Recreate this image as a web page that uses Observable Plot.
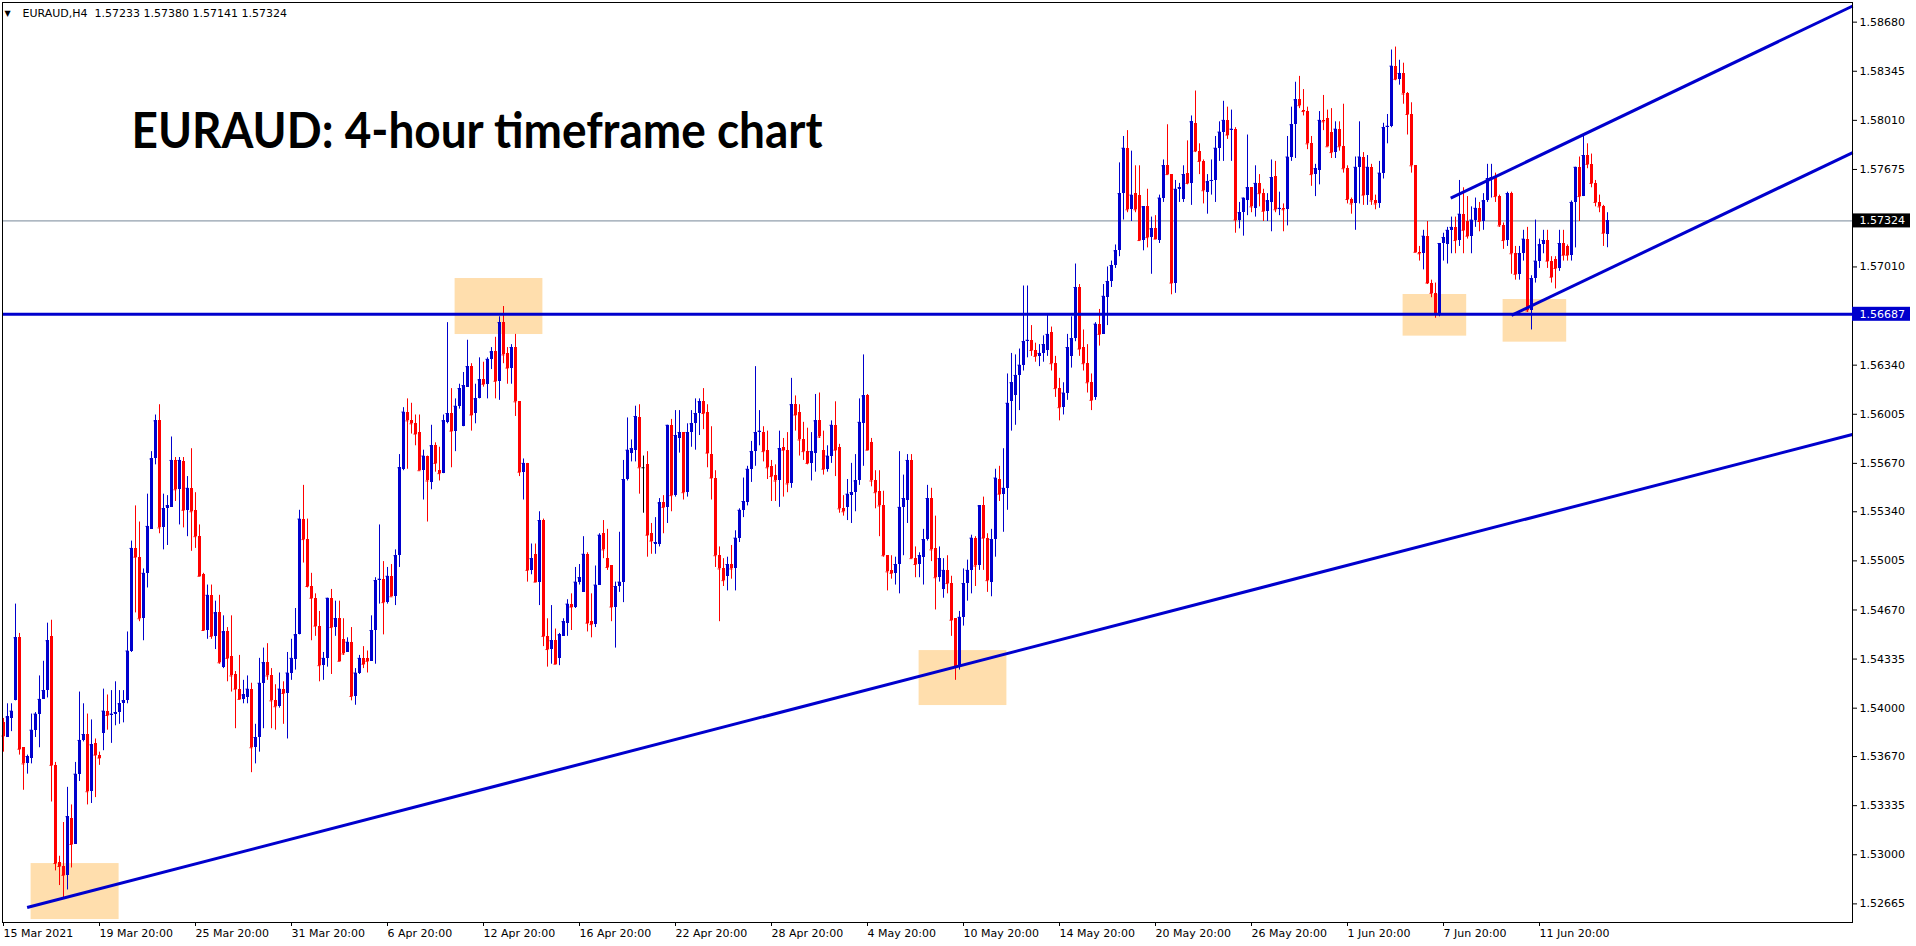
<!DOCTYPE html>
<html><head><meta charset="utf-8">
<script src="https://cdn.jsdelivr.net/npm/d3@7"></script>
<script src="https://cdn.jsdelivr.net/npm/@observablehq/plot@0.6"></script>
<style>
html,body{margin:0;padding:0;background:#fff;}
#chart{width:1916px;height:946px;overflow:hidden;}
#chart svg text{white-space:pre;}
</style></head><body><div id="chart"></div>
<script>
const symbolName = "EURAUD,H4";
const chartTitle = "EURAUD: 4-hour timeframe chart";
const opens = [
1.5390,1.5380,1.5393,1.5405,1.5448,1.5373,1.5362,1.5366,1.5385,1.5396,
1.5406,1.5412,1.5449,1.5361,1.5295,1.5292,1.5286,1.5325,1.5307,1.5355,
1.5378,1.5382,1.5343,1.5376,1.5368,1.5383,1.5398,1.5395,1.5396,1.5397,
1.5403,1.5405,1.5439,1.5509,1.5503,1.5461,1.5492,1.5522,1.5570,1.5596,
1.5523,1.5536,1.5537,1.5569,1.5549,1.5568,1.5535,1.5550,1.5535,1.5517,
1.5491,1.5453,1.5477,1.5449,1.5465,1.5428,1.5452,1.5435,1.5423,1.5413,
1.5406,1.5407,1.5413,1.5373,1.5380,1.5417,1.5431,1.5422,1.5405,1.5401,
1.5413,1.5410,1.5424,1.5433,1.5450,1.5529,1.5515,1.5483,1.5475,1.5456,
1.5429,1.5434,1.5475,1.5455,1.5461,1.5447,1.5438,1.5445,1.5408,1.5424,
1.5434,1.5434,1.5432,1.5453,1.5487,1.5488,1.5472,1.5490,1.5476,1.5504,
1.5563,1.5602,1.5596,1.5594,1.5588,1.5562,1.5572,1.5554,1.5579,1.5562,
1.5560,1.5595,1.5601,1.5589,1.5606,1.5592,1.5619,1.5633,1.5601,1.5611,
1.5624,1.5621,1.5638,1.5643,1.5623,1.5663,1.5642,1.5632,1.5646,1.5609,
1.5561,1.5567,1.5494,1.5505,1.5486,1.5528,1.5449,1.5440,1.5446,1.5434,
1.5449,1.5458,1.5471,1.5469,1.5486,1.5479,1.5505,1.5459,1.5457,1.5484,
1.5519,1.5502,1.5497,1.5469,1.5483,1.5486,1.5556,1.5574,1.5576,1.5598,
1.5564,1.5566,1.5519,1.5512,1.5512,1.5540,1.5537,1.5593,1.5545,1.5584,
1.5588,1.5547,1.5588,1.5594,1.5601,1.5609,1.5602,1.5573,1.5557,1.5504,
1.5495,1.5490,1.5498,1.5495,1.5516,1.5535,1.5540,1.5563,1.5575,1.5588,
1.5588,1.5576,1.5565,1.5559,1.5555,1.5578,1.5576,1.5553,1.5607,1.5602,
1.5583,1.5575,1.5567,1.5574,1.5596,1.5576,1.5563,1.5572,1.5593,1.5578,
1.5536,1.5537,1.5545,1.5547,1.5555,1.5594,1.5613,1.5581,1.5555,1.5548,
1.5538,1.5504,1.5494,1.5492,1.5498,1.5537,1.5542,1.5569,1.5502,1.5498,
1.5503,1.5515,1.5543,1.5509,1.5489,1.5481,1.5494,1.5485,1.5461,1.5428,
1.5462,1.5485,1.5494,1.5516,1.5497,1.5538,1.5516,1.5486,1.5515,1.5556,
1.5546,1.5550,1.5609,1.5613,1.5627,1.5634,1.5650,1.5651,1.5644,1.5640,
1.5642,1.5644,1.5656,1.5635,1.5618,1.5605,1.5615,1.5640,1.5652,1.5687,
1.5646,1.5635,1.5622,1.5612,1.5662,1.5655,1.5680,1.5691,1.5702,1.5712,
1.5751,1.5782,1.5740,1.5751,1.5750,1.5719,1.5742,1.5721,1.5727,1.5719,
1.5748,1.5770,1.5764,1.5690,1.5754,1.5747,1.5765,1.5758,1.5799,1.5780,
1.5773,1.5752,1.5759,1.5760,1.5782,1.5793,1.5801,1.5794,1.5795,1.5733,
1.5738,1.5746,1.5755,1.5741,1.5758,1.5751,1.5739,1.5745,1.5763,1.5740,
1.5741,1.5740,1.5776,1.5798,1.5815,1.5808,1.5807,1.5785,1.5764,1.5767,
1.5801,1.5802,1.5793,1.5779,1.5795,1.5783,1.5768,1.5747,1.5744,1.5769,
1.5776,1.5750,1.5769,1.5746,1.5744,1.5765,1.5796,1.5797,1.5838,1.5829,
1.5833,1.5819,1.5805,1.5770,1.5711,1.5710,1.5722,1.5690,1.5683,1.5669,
1.5717,1.5716,1.5726,1.5728,1.5719,1.5737,1.5732,1.5722,1.5733,1.5741,
1.5732,1.5746,1.5761,1.5762,1.5749,1.5729,1.5719,1.5751,1.5710,1.5696,
1.5710,1.5720,1.5671,1.5693,1.5705,1.5716,1.5719,1.5705,1.5706,1.5700,
1.5717,1.5715,1.5709,1.5745,1.5769,1.5749,1.5777,1.5771,1.5758,1.5745,
1.5742,1.57233];
const highs = [
1.5393,1.5403,1.5403,1.5471,1.5451,1.5373,1.5368,1.5396,1.5397,1.5422,
1.5432,1.5458,1.5460,1.5363,1.5299,1.5322,1.5346,1.5334,1.5363,1.5411,
1.5403,1.5396,1.5392,1.5379,1.5370,1.5413,1.5409,1.5412,1.5418,1.5412,
1.5412,1.5452,1.5514,1.5538,1.5527,1.5495,1.5546,1.5575,1.5600,1.5607,
1.5546,1.5545,1.5585,1.5571,1.5571,1.5571,1.5558,1.5577,1.5547,1.5525,
1.5492,1.5484,1.5484,1.5473,1.5477,1.5463,1.5455,1.5463,1.5425,1.5436,
1.5419,1.5422,1.5417,1.5389,1.5434,1.5441,1.5444,1.5427,1.5416,1.5424,
1.5418,1.5438,1.5447,1.5468,1.5535,1.5552,1.5529,1.5492,1.5478,1.5466,
1.5438,1.5475,1.5481,1.5473,1.5473,1.5461,1.5448,1.5455,1.5427,1.5436,
1.5442,1.5439,1.5463,1.5489,1.5525,1.5500,1.5496,1.5498,1.5508,1.5573,
1.5605,1.5611,1.5608,1.5600,1.5600,1.5576,1.5572,1.5593,1.5581,1.5578,
1.5600,1.5663,1.5618,1.5611,1.5621,1.5629,1.5651,1.5635,1.5621,1.5639,
1.5636,1.5639,1.5646,1.5653,1.5667,1.5674,1.5646,1.5648,1.5655,1.5609,
1.5570,1.5567,1.5512,1.5512,1.5534,1.5529,1.5461,1.5470,1.5454,1.5451,
1.5461,1.5474,1.5478,1.5496,1.5498,1.5517,1.5506,1.5478,1.5497,1.5519,
1.5528,1.5522,1.5497,1.5486,1.5520,1.5569,1.5598,1.5583,1.5606,1.5607,
1.5572,1.5575,1.5526,1.5530,1.5543,1.5545,1.5593,1.5597,1.5603,1.5603,
1.5588,1.5594,1.5603,1.5611,1.5611,1.5618,1.5607,1.5592,1.5562,1.5510,
1.5502,1.5503,1.5511,1.5521,1.5536,1.5557,1.5565,1.5582,1.5633,1.5603,
1.5592,1.5589,1.5569,1.5566,1.5589,1.5584,1.5588,1.5625,1.5613,1.5607,
1.5595,1.5591,1.5588,1.5614,1.5615,1.5589,1.5579,1.5596,1.5609,1.5580,
1.5545,1.5556,1.5567,1.5573,1.5611,1.5641,1.5614,1.5584,1.5562,1.5562,
1.5548,1.5504,1.5504,1.5503,1.5575,1.5559,1.5573,1.5573,1.5510,1.5506,
1.5522,1.5552,1.5550,1.5531,1.5510,1.5502,1.5504,1.5490,1.5461,1.5466,
1.5495,1.5501,1.5518,1.5517,1.5538,1.5544,1.5519,1.5522,1.5563,1.5565,
1.5577,1.5628,1.5642,1.5641,1.5645,1.5688,1.5688,1.5661,1.5649,1.5648,
1.5654,1.5669,1.5660,1.5640,1.5625,1.5622,1.5655,1.5667,1.5703,1.5689,
1.5658,1.5648,1.5628,1.5663,1.5672,1.5689,1.5701,1.5705,1.5716,1.5772,
1.5790,1.5794,1.5780,1.5770,1.5770,1.5742,1.5754,1.5735,1.5736,1.5750,
1.5774,1.5798,1.5764,1.5760,1.5758,1.5770,1.5787,1.5804,1.5821,1.5785,
1.5774,1.5764,1.5774,1.5790,1.5800,1.5814,1.5810,1.5808,1.5796,1.5745,
1.5748,1.5791,1.5755,1.5770,1.5764,1.5754,1.5751,1.5774,1.5773,1.5752,
1.5744,1.5790,1.5810,1.5827,1.5831,1.5822,1.5810,1.5790,1.5771,1.5807,
1.5818,1.5808,1.5809,1.5800,1.5800,1.5812,1.5770,1.5748,1.5776,1.5800,
1.5779,1.5777,1.5771,1.5750,1.5773,1.5799,1.5805,1.5849,1.5851,1.5842,
1.5840,1.5820,1.5813,1.5770,1.5715,1.5726,1.5732,1.5692,1.5690,1.5717,
1.5724,1.5728,1.5735,1.5735,1.5760,1.5755,1.5749,1.5742,1.5748,1.5745,
1.5751,1.5771,1.5771,1.5765,1.5750,1.5731,1.5752,1.5752,1.5715,1.5715,
1.5726,1.5728,1.5695,1.5733,1.5720,1.5726,1.5726,1.5708,1.5708,1.5726,
1.5726,1.5716,1.5746,1.5769,1.5776,1.5790,1.5785,1.5778,1.5760,1.5750,
1.5743,1.57380];
const lows = [
1.5370,1.5380,1.5384,1.5405,1.5368,1.5344,1.5355,1.5362,1.5380,1.5373,
1.5406,1.5407,1.5336,1.5289,1.5279,1.5270,1.5276,1.5291,1.5307,1.5350,
1.5377,1.5334,1.5335,1.5339,1.5361,1.5371,1.5385,1.5376,1.5388,1.5389,
1.5390,1.5403,1.5438,1.5465,1.5459,1.5446,1.5482,1.5522,1.5566,1.5519,
1.5508,1.5511,1.5537,1.5541,1.5525,1.5523,1.5517,1.5507,1.5509,1.5490,
1.5453,1.5447,1.5447,1.5440,1.5430,1.5427,1.5418,1.5411,1.5386,1.5406,
1.5403,1.5403,1.5356,1.5362,1.5370,1.5386,1.5419,1.5386,1.5385,1.5400,
1.5389,1.5379,1.5419,1.5426,1.5450,1.5499,1.5482,1.5446,1.5449,1.5418,
1.5419,1.5428,1.5423,1.5449,1.5432,1.5436,1.5438,1.5405,1.5402,1.5423,
1.5427,1.5424,1.5432,1.5430,1.5471,1.5450,1.5471,1.5476,1.5470,1.5496,
1.5562,1.5563,1.5587,1.5579,1.5562,1.5542,1.5527,1.5549,1.5561,1.5555,
1.5560,1.5594,1.5564,1.5575,1.5604,1.5592,1.5619,1.5589,1.5594,1.5611,
1.5619,1.5611,1.5631,1.5611,1.5610,1.5635,1.5621,1.5621,1.5599,1.5558,
1.5542,1.5486,1.5491,1.5486,1.5470,1.5442,1.5428,1.5430,1.5430,1.5429,
1.5449,1.5449,1.5453,1.5468,1.5484,1.5479,1.5452,1.5448,1.5455,1.5484,
1.5502,1.5494,1.5459,1.5441,1.5479,1.5472,1.5555,1.5568,1.5568,1.5546,
1.5533,1.5503,1.5505,1.5505,1.5510,1.5519,1.5526,1.5534,1.5544,1.5574,
1.5542,1.5544,1.5578,1.5576,1.5586,1.5590,1.5564,1.5542,1.5496,1.5459,
1.5483,1.5480,1.5488,1.5480,1.5513,1.5530,1.5538,1.5554,1.5565,1.5579,
1.5568,1.5556,1.5541,1.5541,1.5537,1.5544,1.5547,1.5550,1.5589,1.5572,
1.5569,1.5566,1.5555,1.5561,1.5584,1.5559,1.5561,1.5567,1.5558,1.5533,
1.5531,1.5528,1.5526,1.5534,1.5552,1.5565,1.5576,1.5551,1.5536,1.5517,
1.5503,1.5480,1.5488,1.5484,1.5478,1.5504,1.5526,1.5502,1.5489,1.5489,
1.5484,1.5514,1.5500,1.5467,1.5486,1.5475,1.5478,1.5449,1.5419,1.5426,
1.5456,1.5473,1.5478,1.5483,1.5494,1.5494,1.5479,1.5476,1.5503,1.5541,
1.5520,1.5535,1.5589,1.5593,1.5603,1.5630,1.5639,1.5640,1.5636,1.5633,
1.5636,1.5640,1.5630,1.5612,1.5596,1.5600,1.5610,1.5632,1.5650,1.5640,
1.5630,1.5615,1.5603,1.5610,1.5647,1.5655,1.5661,1.5687,1.5700,1.5708,
1.5733,1.5738,1.5732,1.5738,1.5719,1.5712,1.5714,1.5696,1.5720,1.5717,
1.5745,1.5764,1.5682,1.5683,1.5745,1.5745,1.5757,1.5743,1.5779,1.5764,
1.5744,1.5737,1.5750,1.5745,1.5773,1.5773,1.5788,1.5773,1.5724,1.5727,
1.5722,1.5736,1.5738,1.5735,1.5742,1.5732,1.5732,1.5725,1.5738,1.5736,
1.5725,1.5729,1.5773,1.5775,1.5809,1.5804,1.5781,1.5756,1.5749,1.5757,
1.5794,1.5783,1.5775,1.5775,1.5780,1.5765,1.5744,1.5737,1.5726,1.5744,
1.5743,1.5743,1.5743,1.5740,1.5741,1.5761,1.5785,1.5796,1.5828,1.5825,
1.5812,1.5791,1.5765,1.5711,1.5705,1.5699,1.5689,1.5680,1.5666,1.5667,
1.5705,1.5703,1.5710,1.5710,1.5715,1.5710,1.5720,1.5710,1.5728,1.5725,
1.5726,1.5745,1.5748,1.5745,1.5728,1.5713,1.5715,1.5696,1.5692,1.5692,
1.5705,1.5670,1.5658,1.5690,1.5700,1.5710,1.5700,1.5690,1.5686,1.5698,
1.5705,1.5705,1.5705,1.5714,1.5732,1.5749,1.5768,1.5755,1.5742,1.5738,
1.5715,1.57141];
const closes = [
1.5381,1.5394,1.5398,1.5448,1.5372,1.5362,1.5367,1.5385,1.5396,1.5406,
1.5412,1.5446,1.5361,1.5294,1.5292,1.5286,1.5326,1.5307,1.5355,1.5378,
1.5382,1.5343,1.5375,1.5368,1.5366,1.5398,1.5395,1.5396,1.5397,1.5403,
1.5405,1.5439,1.5509,1.5503,1.5461,1.5492,1.5524,1.5570,1.5596,1.5523,
1.5536,1.5538,1.5569,1.5549,1.5569,1.5535,1.5550,1.5534,1.5517,1.5490,
1.5453,1.5477,1.5449,1.5465,1.5431,1.5452,1.5434,1.5422,1.5413,1.5406,
1.5409,1.5413,1.5373,1.5380,1.5417,1.5431,1.5422,1.5405,1.5401,1.5413,
1.5410,1.5424,1.5434,1.5450,1.5529,1.5515,1.5483,1.5475,1.5456,1.5429,
1.5434,1.5475,1.5455,1.5461,1.5432,1.5437,1.5445,1.5408,1.5424,1.5434,
1.5430,1.5432,1.5453,1.5487,1.5488,1.5472,1.5490,1.5476,1.5504,1.5564,
1.5602,1.5596,1.5594,1.5587,1.5562,1.5572,1.5555,1.5579,1.5567,1.5560,
1.5596,1.5601,1.5589,1.5606,1.5618,1.5620,1.5633,1.5600,1.5611,1.5624,
1.5621,1.5638,1.5643,1.5623,1.5663,1.5641,1.5632,1.5646,1.5609,1.5561,
1.5567,1.5494,1.5502,1.5486,1.5528,1.5449,1.5440,1.5446,1.5430,1.5450,
1.5459,1.5471,1.5469,1.5486,1.5489,1.5505,1.5458,1.5457,1.5484,1.5518,
1.5508,1.5496,1.5469,1.5483,1.5486,1.5556,1.5576,1.5577,1.5599,1.5564,
1.5564,1.5518,1.5514,1.5513,1.5540,1.5537,1.5593,1.5545,1.5586,1.5588,
1.5547,1.5588,1.5594,1.5601,1.5609,1.5601,1.5574,1.5557,1.5504,1.5495,
1.5487,1.5498,1.5495,1.5516,1.5535,1.5541,1.5563,1.5575,1.5588,1.5589,
1.5575,1.5564,1.5558,1.5555,1.5577,1.5576,1.5553,1.5607,1.5600,1.5583,
1.5575,1.5567,1.5575,1.5596,1.5585,1.5563,1.5572,1.5593,1.5576,1.5536,
1.5534,1.5546,1.5547,1.5555,1.5595,1.5613,1.5576,1.5555,1.5547,1.5538,
1.5504,1.5493,1.5492,1.5498,1.5537,1.5543,1.5569,1.5502,1.5498,1.5504,
1.5515,1.5543,1.5508,1.5489,1.5502,1.5494,1.5485,1.5460,1.5428,1.5462,
1.5485,1.5494,1.5516,1.5497,1.5538,1.5516,1.5487,1.5515,1.5557,1.5546,
1.5550,1.5608,1.5622,1.5627,1.5634,1.5650,1.5651,1.5644,1.5640,1.5642,
1.5648,1.5655,1.5635,1.5618,1.5605,1.5615,1.5646,1.5652,1.5687,1.5645,
1.5635,1.5622,1.5610,1.5662,1.5655,1.5681,1.5691,1.5702,1.5712,1.5751,
1.5782,1.5740,1.5750,1.5740,1.5719,1.5742,1.5721,1.5727,1.5720,1.5748,
1.5770,1.5764,1.5690,1.5754,1.5755,1.5764,1.5758,1.5800,1.5780,1.5773,
1.5753,1.5759,1.5760,1.5782,1.5793,1.5801,1.5791,1.5795,1.5733,1.5738,
1.5748,1.5755,1.5742,1.5758,1.5751,1.5739,1.5746,1.5762,1.5740,1.5741,
1.5740,1.5776,1.5798,1.5815,1.5811,1.5807,1.5785,1.5764,1.5768,1.5801,
1.5800,1.5783,1.5779,1.5795,1.5783,1.5768,1.5747,1.5744,1.5769,1.5776,
1.5750,1.5769,1.5746,1.5744,1.5765,1.5796,1.5797,1.5838,1.5829,1.5833,
1.5819,1.5805,1.5770,1.5711,1.5710,1.5722,1.5690,1.5683,1.5669,1.5717,
1.5721,1.5726,1.5728,1.5719,1.5737,1.5726,1.5722,1.5733,1.5741,1.5732,
1.5746,1.5761,1.5762,1.5749,1.5729,1.5719,1.5751,1.5710,1.5696,1.5710,
1.5720,1.5671,1.5693,1.5705,1.5716,1.5719,1.5705,1.5694,1.5700,1.5717,
1.5709,1.5709,1.5745,1.5769,1.5749,1.5777,1.5771,1.5758,1.5745,1.5742,
1.5724,1.57324];
const dateLabels = ["15 Mar 2021","19 Mar 20:00","25 Mar 20:00","31 Mar 20:00","6 Apr 20:00","12 Apr 20:00","16 Apr 20:00","22 Apr 20:00","28 Apr 20:00","4 May 20:00","10 May 20:00","14 May 20:00","20 May 20:00","26 May 20:00","1 Jun 20:00","7 Jun 20:00","11 Jun 20:00"];
const barsPerLabel = 24;
const priceTicks = [1.58680,1.58345,1.58010,1.57675,1.57010,1.56340,1.56005,1.55670,1.55340,1.55005,1.54670,1.54335,1.54000,1.53670,1.53335,1.53000,1.52665];
const supportLevel = 1.56687;
// trend lines: [bar index, price] end points
const lineStartBar = [5.9, 361.8, 377.0];
const lineStartPrice = [1.52640, 1.5748, 1.5668];
const lineEndBar = [462.2, 462.3, 462.3];
const lineEndPrice = [1.55867, 1.5879, 1.5779];
// highlighted zones: bar range and price range
const zoneBarFrom = [6.9, 112.9, 228.9, 349.9, 374.9];
const zoneBarTo = [28.9, 134.85, 250.85, 365.8, 390.8];
const zonePriceLow = [1.52558, 1.56549, 1.54018, 1.56538, 1.56497];
const zonePriceHigh = [1.52940, 1.56931, 1.54393, 1.56822, 1.56788];

const BULL = "#0000CD", BEAR = "#FF0000", LINE = "#0000CD", ZONE = "#FFDEAD";
const n = closes.length;
const lastPrice = closes[n-1];
const candles = closes.map((c, i) => ({
  i, open: opens[i], close: c,
  high: Math.max(highs[i], opens[i], c),
  low: Math.min(lows[i], opens[i], c)
}));
const colorOf = d => d.close > d.open ? BULL : d.close < d.open ? BEAR : "#000000";
const lines = lineStartBar.map((b, k) => ({x1: b, y1: lineStartPrice[k], x2: lineEndBar[k], y2: lineEndPrice[k]}));
const zones = zoneBarFrom.map((b, k) => ({x1: b, x2: zoneBarTo[k], y1: zonePriceLow[k], y2: zonePriceHigh[k]}));
const xDomain = [-0.25, 462.25];
const yDomain = [1.52538, 1.58814];
const xMax = xDomain[1];
const labelIdx = dateLabels.map((_, k) => k * barsPerLabel);
const hdr = `${symbolName}  ${opens[n-1].toFixed(5)} ${highs[n-1].toFixed(5)} ${lows[n-1].toFixed(5)} ${closes[n-1].toFixed(5)}`;

const chart = Plot.plot({
  width: 1916, height: 946,
  marginLeft: 2, marginRight: 64, marginTop: 2, marginBottom: 24,
  style: {fontFamily: "DejaVu Sans", fontSize: "11px", color: "#000", background: "#fff", overflow: "visible"},
  x: {domain: xDomain, axis: null},
  y: {domain: yDomain, axis: null},
  marks: [
    Plot.rect(zones, {x1: "x1", x2: "x2", y1: "y1", y2: "y2", fill: ZONE}),
    Plot.ruleY([lastPrice], {stroke: "#778899", strokeWidth: 1}),
    Plot.ruleX(candles, {x: "i", y1: "low", y2: "high", stroke: colorOf, strokeWidth: 1}),
    Plot.rect(candles, {x1: d => d.i - 0.375, x2: d => d.i + 0.375, y1: "open", y2: "close", fill: colorOf, shapeRendering: "crispEdges"}),
    Plot.ruleY(candles, {y: "close", x1: d => d.i - 0.375, x2: d => d.i + 0.375, stroke: colorOf}),
    Plot.ruleY([supportLevel], {stroke: LINE, strokeWidth: 3}),
    Plot.link(lines, {x1: "x1", y1: "y1", x2: "x2", y2: "y2", stroke: LINE, strokeWidth: 3}),
    Plot.frame({stroke: "#000"}),
    Plot.axisY(priceTicks, {anchor: "right", tickSize: 4, tickPadding: 3, tickFormat: d => d.toFixed(5), label: null, fontSize: 11}),
    Plot.axisX(labelIdx, {anchor: "bottom", tickSize: 4, tickPadding: 3, tickFormat: i => dateLabels[i / barsPerLabel], textAnchor: "start", label: null, fontSize: 11}),
    Plot.rect([lastPrice], {x1: xMax, x2: xMax, y1: d => d, y2: d => d, insetRight: -58, insetTop: -7, insetBottom: -7, fill: "#000"}),
    Plot.text([lastPrice], {x: xMax, y: d => d, text: d => d.toFixed(5), dx: 7, textAnchor: "start", fill: "#fff", fontSize: 11}),
    Plot.rect([supportLevel], {x1: xMax, x2: xMax, y1: d => d, y2: d => d, insetRight: -58, insetTop: -7, insetBottom: -7, fill: LINE}),
    Plot.text([supportLevel], {x: xMax, y: d => d, text: d => d.toFixed(5), dx: 7, textAnchor: "start", fill: "#fff", fontSize: 11}),
    Plot.text([hdr], {frameAnchor: "top-left", text: d => d, dx: 20, dy: 7, lineAnchor: "top", textAnchor: "start", fontSize: 11, fill: "#000"}),
    Plot.text(["\u25BC"], {frameAnchor: "top-left", text: d => d, dx: 2, dy: 8, lineAnchor: "top", textAnchor: "start", fontSize: 8, fill: "#000"}),
    Plot.text([chartTitle], {frameAnchor: "top-left", text: d => d, dx: 129, dy: 110, lineAnchor: "top", textAnchor: "start", fontSize: 50, fontWeight: "bold", fontFamily: "Lato", fill: "#000", className: "main-title"})
  ]
});
document.getElementById("chart").appendChild(chart);
d3.select(chart).selectAll(".main-title text").attr("textLength", 691).attr("lengthAdjust", "spacingAndGlyphs");
</script>
</body></html>
